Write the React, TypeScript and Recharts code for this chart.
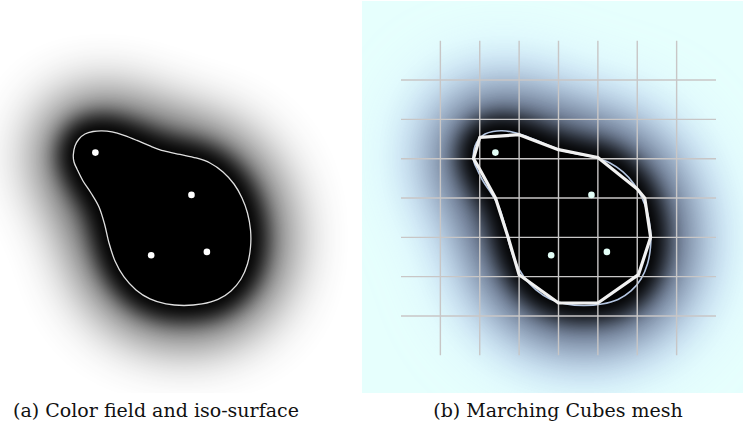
import React from 'react'
import { Scatter, ScatterChart, XAxis, YAxis } from 'recharts'

type P = { x: number; y: number }

// iso-surface of the metaball field, in grid-cell units (0..8)
const isoCurve: P[] = [
  { x: 1.836, y: 2.906 }, { x: 1.879, y: 2.677 }, { x: 1.981, y: 2.499 }, { x: 2.133, y: 2.372 },
  { x: 2.337, y: 2.309 }, { x: 2.565, y: 2.291 }, { x: 2.819, y: 2.321 }, { x: 3.124, y: 2.41 },
  { x: 3.454, y: 2.537 }, { x: 3.784, y: 2.677 }, { x: 4.14, y: 2.804 }, { x: 4.546, y: 2.893 },
  { x: 4.952, y: 2.982 }, { x: 5.308, y: 3.11 }, { x: 5.638, y: 3.338 }, { x: 5.917, y: 3.644 },
  { x: 6.121, y: 3.999 }, { x: 6.26, y: 4.381 }, { x: 6.337, y: 4.813 }, { x: 6.337, y: 5.245 },
  { x: 6.26, y: 5.678 }, { x: 6.095, y: 6.059 }, { x: 5.841, y: 6.364 }, { x: 5.511, y: 6.58 },
  { x: 5.105, y: 6.695 }, { x: 4.648, y: 6.733 }, { x: 4.19, y: 6.695 }, { x: 3.784, y: 6.567 },
  { x: 3.429, y: 6.338 }, { x: 3.124, y: 6.008 }, { x: 2.895, y: 5.601 }, { x: 2.743, y: 5.144 },
  { x: 2.629, y: 4.661 }, { x: 2.489, y: 4.228 }, { x: 2.286, y: 3.872 }, { x: 2.083, y: 3.567 },
  { x: 1.93, y: 3.262 }, { x: 1.854, y: 3.084 },
]

// marching cubes polygon, vertices on grid edges
const meshPolygon: P[] = [
  { x: 2, y: 2.46 }, { x: 3, y: 2.39 }, { x: 4, y: 2.77 }, { x: 5, y: 2.97 },
  { x: 6, y: 3.77 }, { x: 6.19, y: 4 }, { x: 6.34, y: 5 }, { x: 6.03, y: 5.95 },
  { x: 5, y: 6.67 }, { x: 4, y: 6.67 }, { x: 3, y: 5.95 }, { x: 2.72, y: 5 },
  { x: 2.4, y: 4 }, { x: 2, y: 3.27 }, { x: 1.84, y: 3 },
]

// metaball centres
const centres: P[] = [
  { x: 2.397, y: 2.846 },
  { x: 4.837, y: 3.921 },
  { x: 3.814, y: 5.454 },
  { x: 5.229, y: 5.37 },
]

const gridTicks = [1, 2, 3, 4, 5, 6, 7]
const gridSpan = [0, 8]
const captions = ['(a) Color field and iso-surface', '(b) Marching Cubes mesh']

function smoothPath(raw: any[]) {
  const p = raw.filter((q) => q.x != null && q.y != null)
  const n = p.length
  let d = `M${p[0].x},${p[0].y}`
  for (let i = 0; i < n; i++) {
    const p0 = p[(i - 1 + n) % n]
    const p1 = p[i]
    const p2 = p[(i + 1) % n]
    const p3 = p[(i + 2) % n]
    const c1x = p1.x + (p2.x - p0.x) / 6
    const c1y = p1.y + (p2.y - p0.y) / 6
    const c2x = p2.x - (p3.x - p1.x) / 6
    const c2y = p2.y - (p3.y - p1.y) / 6
    d += `C${c1x},${c1y} ${c2x},${c2y} ${p2.x},${p2.y}`
  }
  return d + 'Z'
}

const halo = (id: string, color: string, spread: number, blur: number, opacity = 1) => (props: any) => (
  <g>
    <defs>
      <filter id={id} filterUnits="userSpaceOnUse" x={-400} y={-400} width={1600} height={1600}>
        <feGaussianBlur stdDeviation={blur} />
      </filter>
    </defs>
    <path
      d={smoothPath(props.points)}
      fill={color}
      stroke={color}
      strokeWidth={spread * 2}
      strokeLinejoin="round"
      opacity={opacity}
      filter={`url(#${id})`}
    />
  </g>
)

const blob = (edge: string, width: number) => (props: any) => (
  <path d={smoothPath(props.points)} fill="#000" stroke={edge} strokeWidth={width} />
)

const polygon = (props: any) => {
  const pts = props.points.filter((q: any) => q.x != null)
  const d = pts.map((q: any, i: number) => `${i ? 'L' : 'M'}${q.x},${q.y}`).join('') + 'Z'
  return <path d={d} fill="none" stroke="#f1f1f1" strokeWidth={3.2} strokeLinejoin="round" />
}

const noDot = () => <g />
const dot = (color: string) => (p: any) => <circle cx={p.cx} cy={p.cy} r={3.3} fill={color} />

const margins = { top: 39.7, bottom: 37.7 }

function FieldPanel() {
  return (
    <ScatterChart width={360} height={392} margin={{ ...margins, left: 1, right: 44 }}>
      <XAxis type="number" dataKey="x" domain={[0, 8]} hide />
      <YAxis type="number" dataKey="y" domain={[0, 8]} reversed hide />
      <Scatter data={isoCurve} shape={noDot} line={halo('fa1', '#000', 34, 30, 0.8)} isAnimationActive={false} />
      <Scatter data={isoCurve} shape={noDot} line={halo('fa2', '#000', 14, 10)} isAnimationActive={false} />
      <Scatter data={isoCurve} shape={noDot} line={blob('#e0e0e0', 1.3)} isAnimationActive={false} />
      <Scatter data={centres} shape={dot('#ffffff')} isAnimationActive={false} />
    </ScatterChart>
  )
}

function MeshPanel() {
  return (
    <ScatterChart width={381} height={392} margin={{ ...margins, left: 39, right: 27 }} style={{ background: '#e6fffd' }}>
      <XAxis type="number" dataKey="x" domain={[0, 8]} hide />
      <YAxis type="number" dataKey="y" domain={[0, 8]} reversed hide />
      <Scatter data={isoCurve} shape={noDot} line={halo('mb0', '#b8d0ff', 62, 34)} isAnimationActive={false} />
      <Scatter data={isoCurve} shape={noDot} line={halo('mb1', '#000', 32, 30, 0.8)} isAnimationActive={false} />
      <Scatter data={isoCurve} shape={noDot} line={halo('mb2', '#000', 14, 10)} isAnimationActive={false} />
      <Scatter data={isoCurve} shape={noDot} line={blob('#b4c6e2', 1.6)} isAnimationActive={false} />
      {gridTicks.map((t) => (
        <Scatter
          key={'v' + t}
          data={gridSpan.map((s) => ({ x: t, y: s }))}
          shape={noDot}
          line={{ stroke: '#c8c6c6', strokeWidth: 1.4 }}
          isAnimationActive={false}
        />
      ))}
      {gridTicks.map((t) => (
        <Scatter
          key={'h' + t}
          data={gridSpan.map((s) => ({ x: s, y: t }))}
          shape={noDot}
          line={{ stroke: '#c8c6c6', strokeWidth: 1.4 }}
          isAnimationActive={false}
        />
      ))}
      <Scatter data={meshPolygon} shape={noDot} line={polygon} isAnimationActive={false} />
      <Scatter data={centres} shape={dot('#e4fff8')} isAnimationActive={false} />
    </ScatterChart>
  )
}

export default function App() {
  const capStyle: React.CSSProperties = {
    position: 'absolute',
    top: 399,
    fontFamily: '"DejaVu Serif", serif',
    fontSize: 19,
    color: '#111',
    whiteSpace: 'nowrap',
    transform: 'translateX(-50%)',
  }
  return (
    <div style={{ position: 'absolute', left: 0, top: 0, width: 743, height: 434, background: '#fff', overflow: 'hidden' }}>
      <div style={{ position: 'absolute', left: 0, top: 1 }}>
        <FieldPanel />
      </div>
      <div style={{ position: 'absolute', left: 362, top: 1 }}>
        <MeshPanel />
      </div>
      <div style={{ ...capStyle, left: 156 }}>{captions[0]}</div>
      <div style={{ ...capStyle, left: 558 }}>{captions[1]}</div>
    </div>
  )
}
